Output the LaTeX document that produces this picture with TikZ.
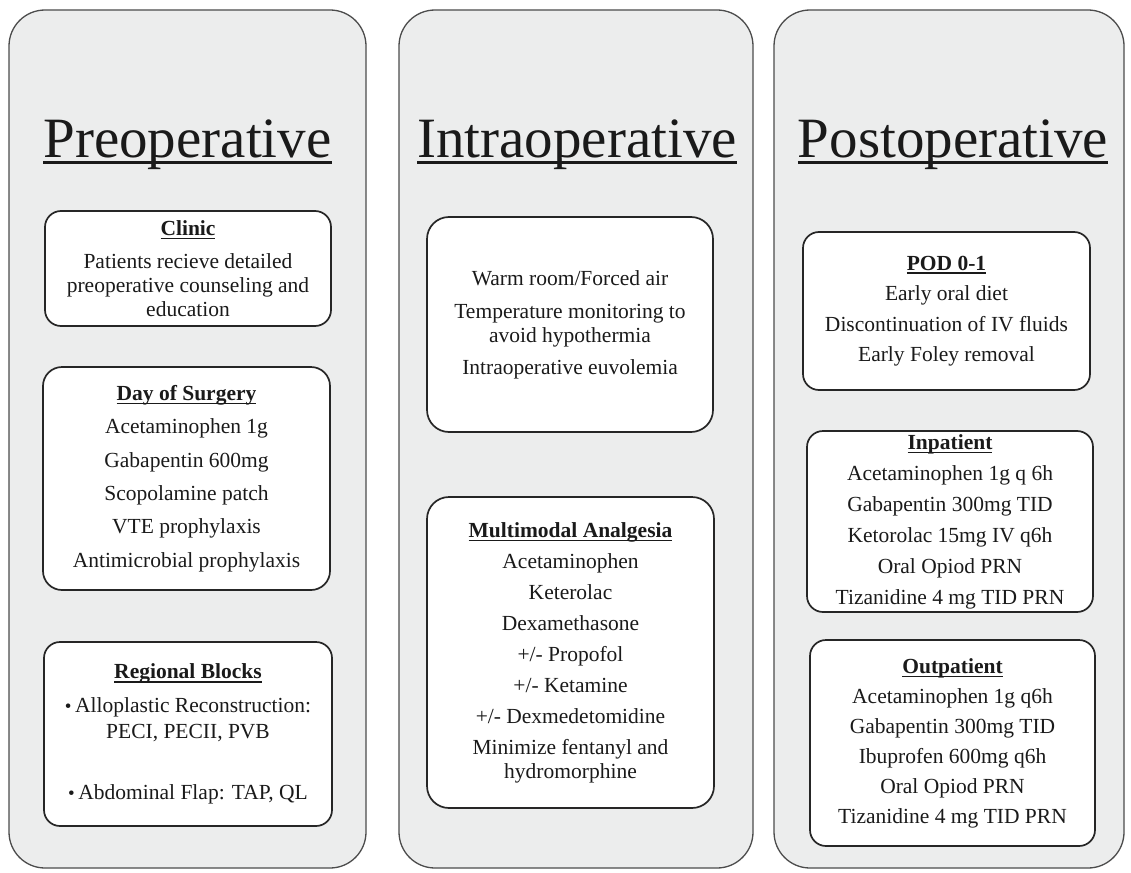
\documentclass[tikz,border=0pt]{standalone}
\usepackage{fontspec}
\setmainfont{Liberation Serif}
\definecolor{panelgray}{HTML}{ECEDED}
\definecolor{inkcol}{HTML}{1A1A1A}
\newcommand{\myul}[3]{\setbox0=\hbox{#3}\leavevmode\rlap{\rule[-#1]{\wd0}{#2}}\box0}
\newcommand{\hd}[1]{\myul{4pt}{1.6pt}{\textbf{#1}}}
\newcommand{\bul}{{\fontsize{19}{19}\selectfont\raisebox{0.5pt}{•}}}
\begin{document}
\begin{tikzpicture}[x=1pt,y=-1pt,
  panel/.style={draw=black!70, line width=1.3pt, fill=panelgray, rounded corners=36pt, inner sep=0pt},
  title/.style={anchor=base, inner sep=0pt, text=inkcol, font={\fontsize{57}{60}\selectfont}},
  box/.style={draw=black!85, line width=1.7pt, fill=white, rounded corners=16pt, inner sep=0pt,
    align=center, text=inkcol, font={\fontsize{21.5}{24}\selectfont}},
  bigbox/.style={box, rounded corners=22pt}]
\useasboundingbox[fill=white] (0,0) rectangle (1131,872);

% panels
\node[panel, minimum width=357pt, minimum height=858pt] (pre) at (187.5,439) {};
\node[panel, minimum width=354pt, minimum height=858pt] (intra) at (576,439) {};
\node[panel, minimum width=350pt, minimum height=858pt] (post) at (949,439) {};

% titles
\node[title] (pretitle) at (187.5,157) {\myul{7pt}{3pt}{Preoperative}};
\node[title] (intratitle) at (577,157) {\myul{7pt}{3pt}{Intraoperative}};
\node[title] (posttitle) at (953,157) {\myul{7pt}{3pt}{Postoperative}};

% preoperative boxes
\node[box, minimum width=286pt, minimum height=115pt] (clinic) at (188,268.5)
  {\hd{Clinic}\\[9pt] Patients recieve detailed\\ preoperative counseling and\\ education};
\node[box, rounded corners=19pt, minimum width=287pt, minimum height=223pt] (dos) at (186.5,478.5)
  {\hd{Day of Surgery}\\[9.4pt] Acetaminophen 1g\\[9.4pt] Gabapentin 600mg\\[9.4pt] Scopolamine patch\\[9.4pt]
   VTE prophylaxis\\[9.4pt] Antimicrobial prophylaxis};
\node[box, minimum width=288pt, minimum height=184pt] (regional) at (188,734)
  {\hd{Regional Blocks}\\[10pt] \bul\,Alloplastic Reconstruction:\\[2pt] PECI, PECII, PVB\\[37pt]
   \bul\,Abdominal Flap: TAP, QL};

% intraoperative boxes
\node[bigbox, minimum width=286pt, minimum height=215pt] (warm) at (570,324.5)
  {Warm room/Forced air\\[9pt] Temperature monitoring to\\ avoid hypothermia\\[8pt] Intraoperative euvolemia};
\node[bigbox, minimum width=287pt, minimum height=311pt] (multi) at (570.5,652.5)
  {\hd{Multimodal Analgesia}\\[7pt] Acetaminophen\\[7pt] Keterolac\\[7pt] Dexamethasone\\[7pt]
   +/- Propofol\\[7pt] +/- Ketamine\\[7pt] +/- Dexmedetomidine\\[7pt] Minimize fentanyl and\\ hydromorphine};

% postoperative boxes
\node[box, minimum width=287pt, minimum height=158pt] (pod) at (946.5,311)
  {\hd{POD 0-1}\\[6.5pt] Early oral diet\\[6.5pt] Discontinuation of IV fluids\\[6.5pt] Early Foley removal};
\node[box, minimum width=286pt, minimum height=181pt] (inpatient) at (950,521.5)
  {\hd{Inpatient}\\[7pt] Acetaminophen 1g q 6h\\[7pt] Gabapentin 300mg TID\\[7pt] Ketorolac 15mg IV q6h\\[7pt]
   Oral Opiod PRN\\[7pt] Tizanidine 4 mg TID PRN};
\node[box, minimum width=285pt, minimum height=206pt] (outpatient) at (952.5,743)
  {\hd{Outpatient}\\[6pt] Acetaminophen 1g q6h\\[6pt] Gabapentin 300mg TID\\[6pt] Ibuprofen 600mg q6h\\[6pt]
   Oral Opiod PRN\\[6pt] Tizanidine 4 mg TID PRN};
\end{tikzpicture}
\end{document}
